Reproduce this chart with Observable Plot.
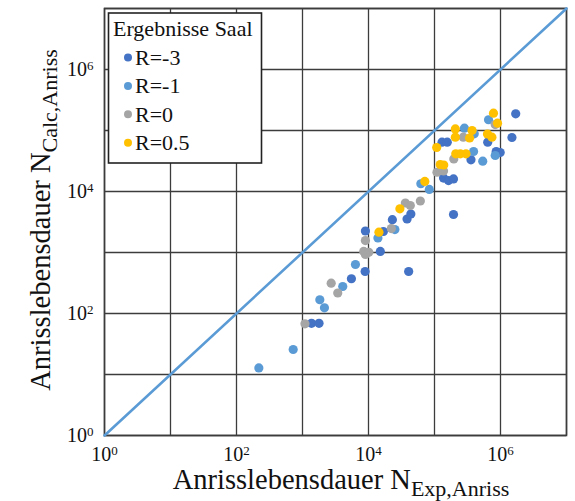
<!DOCTYPE html>
<html><head><meta charset="utf-8">
<script src="https://cdn.jsdelivr.net/npm/d3@7"></script>
<script src="https://cdn.jsdelivr.net/npm/@observablehq/plot@0.6"></script>
<style>html,body{margin:0;padding:0;background:#fff;overflow:hidden;} svg text{font-family:'Liberation Serif','Times New Roman',serif !important;}</style>
</head><body><div id="chart"></div>
<script>
// Series (N_Exp,Anriss on x, N_Calc,Anriss on y)
const seriesNames = ["R=-3", "R=-1", "R=0", "R=0.5"];
const seriesColors = ["#4472C4", "#5B9BD5", "#A5A5A5", "#FFC000"];

const expRm3  = [1370,1780,5510,8890,15100,8980,16800,23000,38400,43800,40600,137000,163000,194000,194000,130000,156000,357000,640000,861000,989000,1490000,1700000];
const calcRm3 = [69,69,371,488,1040,2250,2210,3450,3540,4280,488,16600,15100,16100,4200,64300,64300,33100,64300,45300,43600,76800,188000];

const expRm1  = [218,723,1830,2150,4070,6340,13900,25100,62100,83400,284000,400000,391000,538000,832000,658000];
const calcRm1 = [12.8,25.7,168,124,277,636,1730,2380,13400,10800,109000,88300,45300,31400,38900,150000];

const expR0  = [1090,3420,2720,8460,10100,8980,8980,22200,36200,43000,61000,109000,137000,196000,273000,832000];
const calcR0 = [67.8,217,314,1040,1010,927,1570,2470,6480,5890,6990,20700,21700,34100,77600,125000];

const expR05  = [14400,29900,71300,108000,122000,138000,207000,207000,210000,246000,300000,340000,371000,635000,741000,783000,901000];
const calcR05 = [2150,5200,14600,52600,27700,27200,106000,77600,41500,41500,41500,75400,100000,87600,77600,192000,132000];

const decades = [1,1e1,1e2,1e3,1e4,1e5,1e6,1e7];
const labeledTicks = [1,1e2,1e4,1e6];
const diagonal = [1,1e7];

const legendTitle = "Ergebnisse Saal";
const xTitle = ["Anrisslebensdauer N", "Exp,Anriss"];
const yTitle = ["Anrisslebensdauer N", "Calc,Anriss"];

const seriesData = [[expRm3,calcRm3],[expRm1,calcRm1],[expR0,calcR0],[expR05,calcR05]];
const points = seriesData.flatMap(([xs,ys],s) => xs.map((x,i)=>({x, y: ys[i], s: seriesNames[s]})));

const FONT = "'Liberation Serif', 'Times New Roman', serif";
const gridColor = "#3c3c3c";
const chart = Plot.plot({
  width: 575, height: 501,
  marginLeft: 104, marginRight: 9, marginTop: 8, marginBottom: 66,
  style: {fontFamily: FONT, fontSize: "20px", background: "#fff", color: "#111"},
  x: {type: "log", domain: [1, 1e7], axis: null},
  y: {type: "log", domain: [1, 1e7], axis: null},
  color: {domain: seriesNames, range: seriesColors},
  marks: [
    Plot.ruleX(decades, {stroke: gridColor, strokeWidth: 1.3}),
    Plot.ruleY(decades, {stroke: gridColor, strokeWidth: 1.3}),
    Plot.frame({stroke: gridColor, strokeWidth: 1.6}),
    Plot.line(diagonal, {x: d => d, y: d => d, stroke: "#5B9BD5", strokeWidth: 2.6}),
    Plot.dot(points, {x: "x", y: "y", fill: "s", r: 4.6, stroke: "none"}),
    Plot.text(labeledTicks, {x: d => d, frameAnchor: "bottom", dy: 25, text: d => "10^" + Math.log10(d), fontSize: 20, fontFamily: FONT, textAnchor: "middle", fill: "#111"}),
    Plot.text(labeledTicks, {y: d => d, frameAnchor: "left", dx: -11, text: d => "10^" + Math.log10(d), fontSize: 20, fontFamily: FONT, textAnchor: "end", fill: "#111"})
  ]
});
document.getElementById("chart").appendChild(chart);

const svg = d3.select(chart);
// superscripts on tick labels
svg.selectAll("text").each(function() {
  const m = /^10\^(\d)$/.exec(this.textContent);
  if (m) {
    const t = d3.select(this);
    t.text("10");
    t.append("tspan").attr("dy", "-0.45em").attr("font-size", 13).text(m[1]);
  }
});

function addText(parent, attrs) {
  const t = parent.append("text").attr("font-family", FONT).attr("fill", "#111").attr("text-anchor", "start");
  for (const k in attrs) t.attr(k, attrs[k]);
  return t;
}

// axis titles
const xt = addText(svg, {x: 341, y: 489, "text-anchor": "middle", "font-size": 28.5});
xt.append("tspan").text(xTitle[0]);
xt.append("tspan").attr("font-size", 22).attr("dy", 7).text(xTitle[1]);

const yt = addText(svg, {transform: "translate(50,220) rotate(-90)", "text-anchor": "middle", "font-size": 28.5});
yt.append("tspan").text(yTitle[0]);
yt.append("tspan").attr("font-size", 22).attr("dy", 7).text(yTitle[1]);

// legend
const lg = svg.append("g");
lg.append("rect").attr("x", 108.5).attr("y", 13).attr("width", 153).attr("height", 150)
  .attr("fill", "#fff").attr("stroke", "#222").attr("stroke-width", 1.6);
addText(lg, {x: 113, y: 36, "font-size": 22}).text(legendTitle);
seriesNames.forEach((name, i) => {
  const cy = 57.5 + 28.4 * i;
  lg.append("circle").attr("cx", 128).attr("cy", cy).attr("r", 4).attr("fill", seriesColors[i]);
  addText(lg, {x: 135, y: cy + 7.5, "font-size": 22}).text(name);
});
</script>
</body></html>
